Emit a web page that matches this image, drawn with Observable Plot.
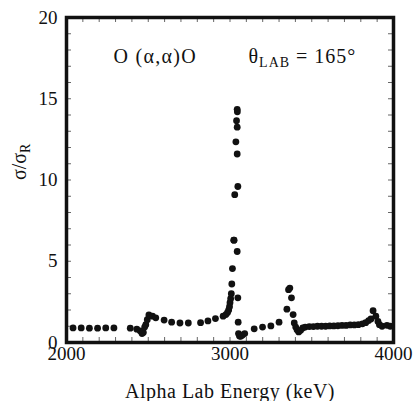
<!DOCTYPE html>
<html>
<head>
<meta charset="utf-8">
<script src="https://cdn.jsdelivr.net/npm/d3@7"></script>
<script src="https://cdn.jsdelivr.net/npm/@observablehq/plot@0.6"></script>
<style>
  body { margin: 0; background: #fff; }
</style>
</head>
<body>
<div id="chart"></div>
<script>
// Elastic scattering O(α,α)O, cross section relative to Rutherford, θlab = 165°
const energy = [
  2040, 2090, 2140, 2190, 2240, 2290, 2390, 2430, 2450, 2462, 2470, 2478, 2485, 2494, 2504,
  2526, 2546, 2597, 2643, 2694, 2745, 2820, 2865, 2911, 2958, 2975, 2985, 2992, 2997, 3000,
  3004, 3008, 3011, 3015, 3023, 3025, 3029, 3036, 3040, 3044, 3045, 3044, 3044, 3048, 3044,
  3048, 3050, 3052, 3058, 3065, 3075, 3090, 3148, 3199, 3250, 3300, 3348, 3358, 3366, 3376,
  3386, 3393, 3402, 3410, 3420, 3432, 3445, 3460, 3485, 3510, 3535, 3560, 3585, 3610, 3635,
  3660, 3685, 3710, 3735, 3760, 3785, 3810, 3830, 3848, 3862, 3875, 3892, 3905, 3914, 3930,
  3960, 3980
];
const ratio = [
  0.9, 0.9, 0.88, 0.88, 0.9, 0.9, 0.88, 0.82, 0.72, 0.55, 0.62, 0.95, 1.1, 1.4, 1.7,
  1.62, 1.52, 1.38, 1.25, 1.2, 1.2, 1.22, 1.33, 1.47, 1.62, 1.72, 1.85, 2.0, 2.2, 2.45,
  2.7, 3.0, 3.6, 4.55, 6.3, 6.3, 9.1, 12.35, 13.65, 14.35, 14.2, 13.25, 11.6, 9.6, 5.6,
  2.75, 1.25, 0.55, 0.4, 0.38, 0.45, 0.55, 0.84, 0.95, 1.02, 1.25, 2.05, 3.25, 3.35, 2.75,
  1.72, 1.2, 0.95, 0.78, 0.65, 0.75, 0.9, 0.95, 0.98, 0.98, 1.0, 1.0, 1.0, 1.02, 1.02,
  1.03, 1.05, 1.05, 1.08, 1.08, 1.1, 1.15, 1.22, 1.35, 1.45, 1.96, 1.62, 1.3, 1.1, 1.0,
  1.06, 1.0
];

const xTicks = [2000, 3000, 4000];
const yTicks = [0, 5, 10, 15, 20];
const xMinor = d3.range(2100, 4000, 100);
const yMinor = d3.range(1, 20, 1);

const xLabel = "Alpha Lab Energy (keV)";
const yLabel = ["σ/σ", "R"];
const reaction = "O (α,α)O";
const angle = ["θ", "LAB", " = 165°"];

const data = energy.map((e, i) => ({energy: e, ratio: ratio[i]}));

const W = 414, H = 401;
const mt = 17, mr = 21, mb = 59, ml = 66;
const innerW = W - ml - mr, innerH = H - mt - mb;
const tick = 5;
const serif = "Liberation Serif";

const chart = Plot.plot({
  width: W,
  height: H,
  marginTop: mt,
  marginRight: mr,
  marginBottom: mb,
  marginLeft: ml,
  style: {fontFamily: serif, background: "#fff"},
  x: {domain: [2000, 4000]},
  y: {domain: [0, 20]},
  marks: [
    // inward minor ticks on all four sides
    Plot.tickX(xMinor, {x: d => d, insetTop: innerH - tick, stroke: "#666"}),
    Plot.tickX(xMinor, {x: d => d, insetBottom: innerH - tick, stroke: "#666"}),
    Plot.tickY(yMinor, {y: d => d, insetRight: innerW - tick, stroke: "#666"}),
    Plot.tickY(yMinor, {y: d => d, insetLeft: innerW - tick, stroke: "#666"}),
    Plot.axisX(xTicks, {tickSize: 0, tickPadding: 4, tickFormat: d => String(d), label: null, fontSize: 19}),
    Plot.axisY(yTicks, {tickSize: 0, tickPadding: 9, tickFormat: d => String(d), label: null, fontSize: 19}),
    Plot.dot(data, {x: "energy", y: "ratio", r: 3.4, fill: "#111", stroke: "none"}),
    Plot.frame({stroke: "#111", strokeWidth: 3.5}),
    Plot.text([reaction], {frameAnchor: "top-left", dx: 47, dy: 45, text: d => d, textAnchor: "start", lineAnchor: "bottom", fontSize: 20, className: "reaction-note"}),
    Plot.text([angle.join("")], {frameAnchor: "top-left", dx: 182, dy: 45, text: d => d, textAnchor: "start", lineAnchor: "bottom", fontSize: 20, className: "angle-note"}),
    Plot.text([xLabel], {frameAnchor: "bottom", dy: 55, text: d => d, lineAnchor: "bottom", fontSize: 20, className: "x-title"}),
    Plot.text([yLabel.join("")], {frameAnchor: "left", dx: -41, rotate: -90, text: d => d, lineAnchor: "bottom", fontSize: 20, className: "y-title"})
  ]
});

// rebuild a text element with a subscripted part
function subscript(textNode, parts, subIndex) {
  const t = d3.select(textNode);
  t.text(null);
  parts.forEach((p, i) => {
    const s = t.append("tspan").text(p);
    if (i === subIndex) s.attr("dy", 4).attr("font-size", 14);
    else if (i === subIndex + 1) s.attr("dy", -4);
  });
}
d3.select(chart).selectAll(".angle-note text").each(function() { subscript(this, angle, 1); });
d3.select(chart).selectAll(".y-title text").each(function() { subscript(this, yLabel, 1); });

// serif face and dark ink on every label
d3.select(chart).selectAll("text")
  .attr("font-family", serif)
  .attr("fill", "#111");
d3.select(chart).selectAll(".x-title text").attr("letter-spacing", 0.5);
d3.select(chart).selectAll(".reaction-note text").attr("letter-spacing", 1.3);
d3.select(chart).selectAll(".angle-note text").attr("letter-spacing", 1);

document.getElementById("chart").appendChild(chart);
</script>
</body>
</html>
